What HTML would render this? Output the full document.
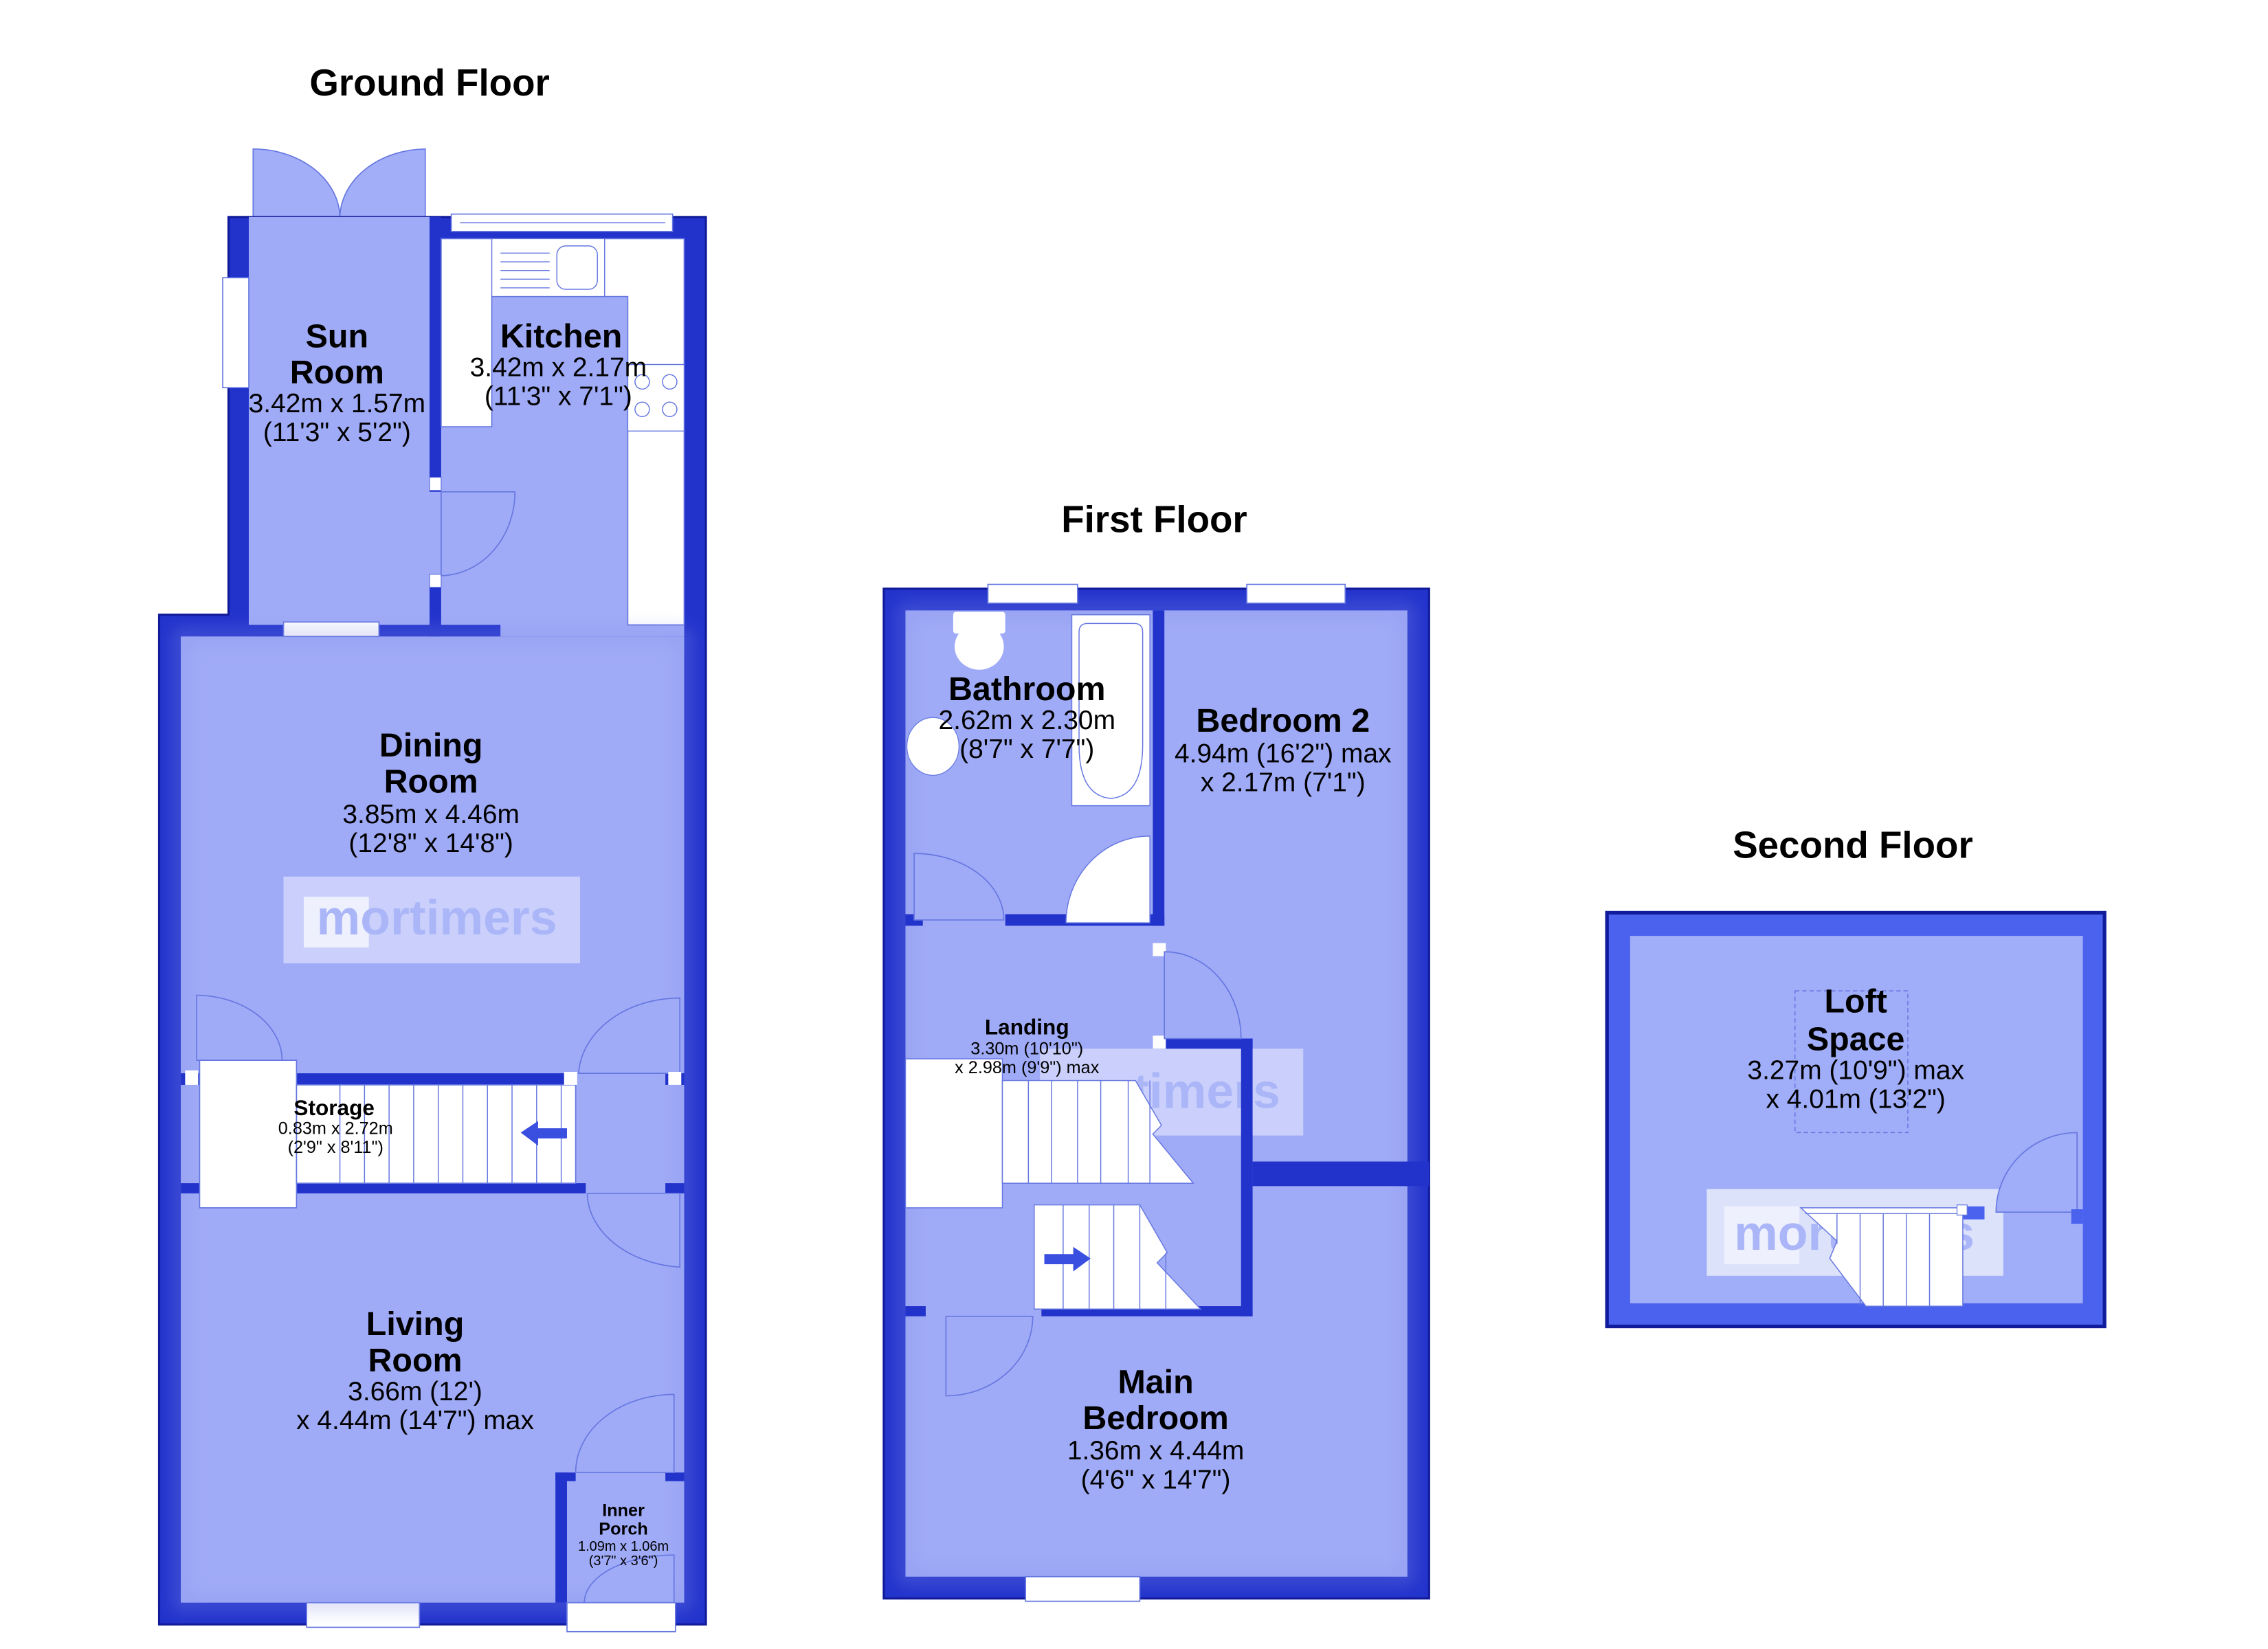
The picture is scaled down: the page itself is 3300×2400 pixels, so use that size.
<!DOCTYPE html>
<html><head><meta charset="utf-8"><style>
html,body{margin:0;padding:0;background:#fff;}
svg{display:block;}
text{font-family:"Liberation Sans",Arial,sans-serif;fill:#000;text-anchor:middle;}
.t{font-weight:bold;font-size:26px;}
.n{font-weight:bold;font-size:23px;}
.d{font-size:18.5px;}
.wm{font-weight:bold;font-size:34px;fill:#aab6f8;}
</style></head><body>
<svg width="3300" height="2400" viewBox="0 0 1568 1140" preserveAspectRatio="none" xmlns="http://www.w3.org/2000/svg">
<defs>
<filter id="sh" x="-10%" y="-10%" width="120%" height="120%"><feGaussianBlur stdDeviation="6"/></filter>
</defs>
<rect width="1568" height="1140" fill="#fff"/>

<!-- ============ GROUND FLOOR ============ -->
<text class="t" x="297" y="66">Ground Floor</text>
<path d="M175,150 L175,103 A60,48 0 0 1 235,150 Z" fill="#a3aef8" stroke="#6677e0" stroke-width="0.8"/>
<path d="M294,150 L294,103 A60,48 0 0 0 235,150 Z" fill="#a3aef8" stroke="#6677e0" stroke-width="0.8"/>
<path d="M158,150 L488,150 L488,1123 L110,1123 L110,425 L158,425 Z" fill="#2233cc" stroke="#111a99" stroke-width="1.5"/>
<rect x="172" y="150" width="125" height="290" fill="#a0abf7"/>
<rect x="303" y="165" width="170" height="275" fill="#a0abf7"/>
<rect x="125" y="440" width="348" height="668" fill="#a0abf7"/>
<rect x="296" y="336" width="10" height="64" fill="#a0abf7"/>
<rect x="297" y="150" width="8" height="190" fill="#2233cc"/>
<rect x="297" y="398" width="8" height="42" fill="#2233cc"/>
<rect x="172" y="432" width="174" height="8" fill="#2233cc"/>
<rect x="297" y="330" width="8" height="9" fill="#fff" stroke="#6677e0" stroke-width="0.6"/>
<rect x="297" y="397" width="8" height="9" fill="#fff" stroke="#6677e0" stroke-width="0.6"/>
<rect x="312" y="148" width="153" height="12" fill="#fff" stroke="#6677e0" stroke-width="0.8"/>
<line x1="318" y1="154" x2="460" y2="154" stroke="#6677e0" stroke-width="0.7"/>
<rect x="154" y="192" width="18" height="76" fill="#fff" stroke="#6677e0" stroke-width="0.8"/>
<rect x="196" y="430" width="66" height="10" fill="#fff" stroke="#6677e0" stroke-width="0.8"/>
<rect x="212" y="1108" width="78" height="17" fill="#fff" stroke="#6677e0" stroke-width="0.8"/>
<path d="M305,165 L473,165 L473,432 L434,432 L434,205 L340,205 L340,295 L305,295 Z" fill="#fff" stroke="#6677e0" stroke-width="0.8"/>
<rect x="340" y="165" width="78" height="40" fill="#fff" stroke="#6677e0" stroke-width="0.7"/>
<g stroke="#6677e0" stroke-width="0.7"><line x1="346" y1="175" x2="380" y2="175"/><line x1="346" y1="181" x2="380" y2="181"/><line x1="346" y1="187" x2="380" y2="187"/><line x1="346" y1="193" x2="380" y2="193"/><line x1="346" y1="199" x2="380" y2="199"/></g>
<rect x="385" y="170" width="28" height="30" rx="6" fill="none" stroke="#6677e0" stroke-width="0.7"/>
<rect x="434" y="252" width="39" height="46" fill="#fff" stroke="#6677e0" stroke-width="0.7"/>
<g fill="none" stroke="#6677e0" stroke-width="0.7"><circle cx="444" cy="264" r="5"/><circle cx="463" cy="264" r="5"/><circle cx="444" cy="283" r="5"/><circle cx="463" cy="283" r="5"/></g>
<path d="M305,340 L356,340 A52,58 0 0 1 305,398 Z" fill="#a0abf7" stroke="#6677e0" stroke-width="0.8"/>
<rect x="125" y="440" width="348" height="668" fill="none" stroke="#8590e8" stroke-width="10" opacity="0.35" filter="url(#sh)"/>
<rect x="196" y="606" width="205" height="60" fill="#d4d9fb" opacity="0.8"/>
<rect x="210" y="620" width="45" height="35" fill="#eef0fd"/>
<text class="wm" x="302" y="646">mortimers</text>
<rect x="125" y="742" width="80" height="8" fill="#2233cc"/>
<rect x="205" y="742" width="185" height="8" fill="#2233cc"/>
<rect x="125" y="818" width="280" height="7" fill="#2233cc"/>
<rect x="460" y="742" width="13" height="8" fill="#2233cc"/>
<rect x="460" y="818" width="13" height="7" fill="#2233cc"/>
<path d="M136,688 L136,733 L195,733 A60,45 0 0 0 136,688 Z" fill="#a0abf7" stroke="#6677e0" stroke-width="0.8"/>
<rect x="138" y="733" width="67" height="102" fill="#fff" stroke="#6677e0" stroke-width="0.8"/>
<rect x="205" y="750" width="193" height="68" fill="#fff" stroke="#6677e0" stroke-width="0.8"/>
<g stroke="#6677e0" stroke-width="0.7">
<line x1="235" y1="750" x2="235" y2="818"/><line x1="269" y1="750" x2="269" y2="818"/><line x1="303" y1="750" x2="303" y2="818"/><line x1="337" y1="750" x2="337" y2="818"/><line x1="371" y1="750" x2="371" y2="818"/>
<line x1="252" y1="750" x2="252" y2="818"/><line x1="286" y1="750" x2="286" y2="818"/><line x1="320" y1="750" x2="320" y2="818"/><line x1="354" y1="750" x2="354" y2="818"/><line x1="388" y1="750" x2="388" y2="818"/>
</g>
<rect x="128" y="740" width="9" height="10" fill="#fff"/>
<path d="M360,783 L372,775 L372,780 L392,780 L392,787 L372,787 L372,792 Z" fill="#3a4ee0"/>
<path d="M470,690 L470,742 L400,742 A70,55 0 0 1 470,690 Z" fill="#a0abf7" stroke="#6677e0" stroke-width="0.8"/>
<path d="M470,876 L470,825 L406,825 A70,52 0 0 0 470,876 Z" fill="#a0abf7" stroke="#6677e0" stroke-width="0.8"/>
<rect x="462" y="741" width="9" height="9" fill="#fff"/>
<rect x="390" y="741" width="9" height="9" fill="#fff"/>
<rect x="384" y="1018" width="8" height="90" fill="#2233cc"/>
<rect x="384" y="1018" width="14" height="6" fill="#2233cc"/>
<rect x="460" y="1018" width="13" height="6" fill="#2233cc"/>
<path d="M466,964 L466,1018 L398,1018 A68,54 0 0 1 466,964 Z" fill="#a0abf7" stroke="#6677e0" stroke-width="0.8"/>
<path d="M466,1075 L466,1108 L404,1108 A62,33 0 0 1 466,1075 Z" fill="#a0abf7" stroke="#6677e0" stroke-width="0.8"/>
<rect x="392" y="1108" width="75" height="20" fill="#fff" stroke="#6677e0" stroke-width="0.8"/>
<text class="n" x="233" y="240">Sun</text>
<text class="n" x="233" y="265">Room</text>
<text class="d" x="233" y="285">3.42m x 1.57m</text>
<text class="d" x="233" y="305">(11'3" x 5'2")</text>
<text class="n" x="388" y="240">Kitchen</text>
<text class="d" x="386" y="260">3.42m x 2.17m</text>
<text class="d" x="386" y="280">(11'3" x 7'1")</text>
<text class="n" x="298" y="523">Dining</text>
<text class="n" x="298" y="548">Room</text>
<text class="d" x="298" y="569">3.85m x 4.46m</text>
<text class="d" x="298" y="589">(12'8" x 14'8")</text>
<text x="231" y="771" style="font-weight:bold;font-size:15px">Storage</text>
<text x="232" y="784" style="font-size:12px">0.83m x 2.72m</text>
<text x="232" y="797" style="font-size:12px">(2'9" x 8'11")</text>
<text class="n" x="287" y="923">Living</text>
<text class="n" x="287" y="948">Room</text>
<text class="d" x="287" y="968">3.66m (12')</text>
<text class="d" x="287" y="988">x 4.44m (14'7") max</text>
<text x="431" y="1048" style="font-weight:bold;font-size:12px">Inner</text>
<text x="431" y="1061" style="font-weight:bold;font-size:12px">Porch</text>
<text x="431" y="1072" style="font-size:9.5px">1.09m x 1.06m</text>
<text x="431" y="1082" style="font-size:9.5px">(3'7" x 3'6")</text>

<!-- ============ FIRST FLOOR ============ -->
<text class="t" x="798" y="368">First Floor</text>
<rect x="611" y="407" width="377" height="698" fill="#2233cc" stroke="#111a99" stroke-width="1.5"/>
<rect x="626" y="422" width="347" height="668" fill="#a0abf7"/>
<rect x="626" y="422" width="347" height="668" fill="none" stroke="#8590e8" stroke-width="10" opacity="0.35" filter="url(#sh)"/>
<rect x="719" y="725" width="182" height="60" fill="#d4d9fb" opacity="0.8"/>
<text class="wm" x="802" y="766">mortimers</text>
<rect x="797" y="422" width="8" height="218" fill="#2233cc"/>
<rect x="695" y="632" width="110" height="8" fill="#2233cc"/>
<rect x="626" y="632" width="12" height="8" fill="#2233cc"/>
<rect x="797" y="718" width="69" height="7" fill="#2233cc"/>
<rect x="858" y="718" width="8" height="192" fill="#2233cc"/>
<rect x="866" y="803" width="122" height="17" fill="#2233cc"/>
<rect x="720" y="903" width="146" height="7" fill="#2233cc"/>
<rect x="626" y="903" width="14" height="7" fill="#2233cc"/>
<rect x="797" y="652" width="9" height="9" fill="#fff"/>
<rect x="797" y="716" width="9" height="9" fill="#fff"/>
<rect x="683" y="404" width="62" height="13" fill="#fff" stroke="#6677e0" stroke-width="0.8"/>
<rect x="862" y="404" width="68" height="13" fill="#fff" stroke="#6677e0" stroke-width="0.8"/>
<rect x="709" y="1090" width="79" height="17" fill="#fff" stroke="#6677e0" stroke-width="0.8"/>
<rect x="659" y="423" width="36" height="15" rx="2" fill="#fff"/>
<ellipse cx="677" cy="447" rx="17" ry="16" fill="#fff"/>
<rect x="741" y="425" width="54" height="132" fill="#fff" stroke="#6677e0" stroke-width="0.7"/>
<path d="M746,437 Q746,431 752,431 L784,431 Q790,431 790,437 L790,515 Q790,550 768,552 Q746,550 746,515 Z" fill="none" stroke="#6677e0" stroke-width="0.7"/>
<ellipse cx="645" cy="516" rx="18" ry="20" fill="#fff" stroke="#6677e0" stroke-width="0.6"/>
<path d="M795,578 L795,638 L737,638 A58,60 0 0 1 795,578 Z" fill="#fff" stroke="#6677e0" stroke-width="0.7"/>
<path d="M632,590 L632,636 L694,636 A62,46 0 0 0 632,590 Z" fill="#a0abf7" stroke="#6677e0" stroke-width="0.8"/>
<path d="M805,658 L805,718 L858,718 A53,60 0 0 0 805,658 Z" fill="#a0abf7" stroke="#6677e0" stroke-width="0.8"/>
<path d="M654,910 L654,965 A60,55 0 0 0 714,910 Z" fill="#a0abf7" stroke="#6677e0" stroke-width="0.8"/>
<rect x="626" y="732" width="67" height="103" fill="#fff" stroke="#6677e0" stroke-width="0.7"/>
<path d="M693,747 L785,747 L803,778 L797,784 L825,818 L693,818 Z" fill="#fff" stroke="#6677e0" stroke-width="0.7"/>
<g stroke="#6677e0" stroke-width="0.7">
<line x1="727" y1="747" x2="727" y2="818"/><line x1="761" y1="747" x2="761" y2="818"/><line x1="780" y1="747" x2="780" y2="818"/><line x1="795" y1="747" x2="795" y2="818"/><line x1="711" y1="747" x2="711" y2="818"/><line x1="745" y1="747" x2="745" y2="818"/>
</g>
<path d="M715,833 L788,833 L807,866 L800,873 L830,905 L715,905 Z" fill="#fff" stroke="#6677e0" stroke-width="0.7"/>
<g stroke="#6677e0" stroke-width="0.7">
<line x1="735" y1="833" x2="735" y2="905"/><line x1="753" y1="833" x2="753" y2="905"/><line x1="770" y1="833" x2="770" y2="905"/><line x1="788" y1="833" x2="788" y2="905"/><line x1="806" y1="866" x2="806" y2="905"/>
</g>
<path d="M754,870 L742,862 L742,867 L722,867 L722,874 L742,874 L742,879 Z" fill="#3a4ee0"/>
<text class="n" x="710" y="484">Bathroom</text>
<text class="d" x="710" y="504">2.62m x 2.30m</text>
<text class="d" x="710" y="524">(8'7" x 7'7")</text>
<text class="n" x="887" y="506">Bedroom 2</text>
<text class="d" x="887" y="527">4.94m (16'2") max</text>
<text class="d" x="887" y="547">x 2.17m (7'1")</text>
<text x="710" y="715" style="font-weight:bold;font-size:15px">Landing</text>
<text x="710" y="729" style="font-size:12px">3.30m (10'10")</text>
<text x="710" y="742" style="font-size:12px">x 2.98m (9'9") max</text>
<text class="n" x="799" y="963">Main</text>
<text class="n" x="799" y="988">Bedroom</text>
<text class="d" x="799" y="1009">1.36m x 4.44m</text>
<text class="d" x="799" y="1029">(4'6" x 14'7")</text>

<!-- ============ SECOND FLOOR ============ -->
<text class="t" x="1281" y="593">Second Floor</text>
<rect x="1111" y="631" width="344" height="286" fill="#4a62ee" stroke="#101c9a" stroke-width="2.5"/>
<rect x="1127" y="647" width="313" height="254" fill="#a0adf8"/>
<rect x="1180" y="822" width="205" height="60" fill="#dde2fb"/>
<rect x="1192" y="834" width="52" height="40" fill="#eef0fd"/>
<text class="wm" x="1282" y="864">mortimers</text>
<rect x="1241" y="685" width="78" height="98" fill="none" stroke="#6677e0" stroke-width="0.7" stroke-dasharray="3,2"/>
<path d="M1436,783 L1436,838 L1380,838 A56,55 0 0 1 1436,783 Z" fill="#a0adf8" stroke="#6677e0" stroke-width="0.8"/>
<rect x="1432" y="836" width="8" height="10" fill="#4a62ee"/>
<rect x="1356" y="834" width="16" height="9" fill="#4a62ee"/>
<path d="M1245,835 L1357,835 L1357,903 L1290,903 L1265,870 L1270,858 Z" fill="#fff" stroke="#6677e0" stroke-width="0.7"/>
<g stroke="#6677e0" stroke-width="0.7">
<line x1="1270" y1="839" x2="1270" y2="860"/><line x1="1286" y1="839" x2="1286" y2="903"/><line x1="1302" y1="839" x2="1302" y2="903"/><line x1="1318" y1="839" x2="1318" y2="903"/><line x1="1334" y1="839" x2="1334" y2="903"/><line x1="1248" y1="839" x2="1357" y2="839"/>
</g>
<rect x="1353" y="833" width="7" height="7" fill="#fff" stroke="#6677e0" stroke-width="0.6"/>
<text class="n" x="1283" y="700">Loft</text>
<text class="n" x="1283" y="726">Space</text>
<text class="d" x="1283" y="746">3.27m (10'9") max</text>
<text class="d" x="1283" y="766">x 4.01m (13'2")</text>
</svg>
</body></html>
